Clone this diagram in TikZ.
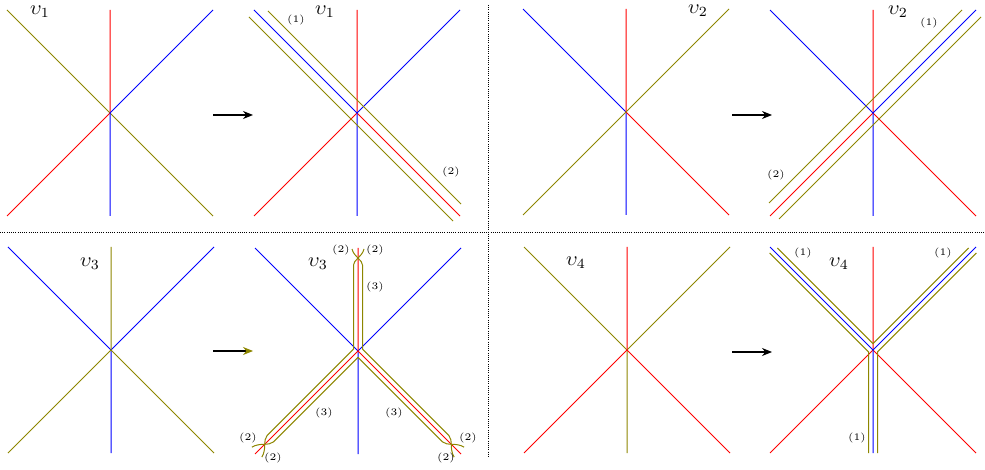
\documentclass[tikz,border=0pt]{standalone}
\usepackage{amsmath,amssymb}
\usepackage{tikz}
\usetikzlibrary{arrows.meta}
\tikzset{
  rl/.style={draw=red, line width=0.5pt},
  bl/.style={draw=blue, line width=0.5pt},
  ol/.style={draw=olive, line width=0.5pt},
  tube/.style={draw=olive, line width=0.5pt},
  vlab/.style={font=\normalsize, inner sep=1pt},
  idx/.style={font=\tiny, inner sep=1pt},
  mapto/.style={-{Stealth[length=5pt,width=4pt]}, line width=0.6pt},
  sep/.style={line width=0.5pt, dash pattern=on 0.5pt off 0.6pt},
}

\begin{document}
\begin{tikzpicture}[x=0.5pt, y=-0.5pt]
  \useasboundingbox (0,0) rectangle (985,470);
  % separators
  \coordinate (st) at (488,5);  \coordinate (sb) at (488,457);
  \coordinate (sl) at (0,233);  \coordinate (sr) at (985,233);
  \draw[sep] (st) -- (sb);
  \draw[sep] (sl) -- (sr);

  % v1 before
  \begin{scope}[shift={(110,113)}]
    \coordinate (c1) at (0,0);
    \draw[ol] (-103,-103) -- (103,103);
    \draw[rl] (0,-103) -- (c1) -- (-103,103);
    \draw[bl] (103,-103) -- (c1) -- (0,103);
    \node[vlab] (v1a) at (-70,-101) {$\upsilon_1$};
  \end{scope}
  \coordinate (a1s) at (213,115); \coordinate (a1e) at (253,115);
  \draw[mapto] (a1s) -- (a1e);
  % v1 after
  \begin{scope}[shift={(357,113)}]
    \coordinate (c2) at (0,0);
    \draw[rl] (0,-103) -- (c2) -- (103,103);
    \draw[rl] (-103,103) -- (c2);
    \draw[bl] (-103,-103) -- (c2) -- (0,103);
    \draw[bl] (c2) -- (103,-103);
    \draw[ol] (-89,-102) -- (104,91);
    \draw[ol] (-108,-96) -- (96,108);
    \node[vlab] (v1b) at (-32,-101) {$\upsilon_1$};
    \node[idx] (i21) at (-61,-93) {(1)};
    \node[idx] (i22) at (94,59) {(2)};
  \end{scope}

  % v2 before
  \begin{scope}[shift={(626,112)}]
    \coordinate (c3) at (0,0);
    \draw[bl] (-103,-103) -- (c3) -- (0,103);
    \draw[rl] (0,-103) -- (c3) -- (103,103);
    \draw[ol] (-103,103) -- (103,-103);
    \node[vlab] (v2a) at (72,-101) {$\upsilon_2$};
  \end{scope}
  \coordinate (a2s) at (732,115); \coordinate (a2e) at (772,115);
  \draw[mapto] (a2s) -- (a2e);
  % v2 after
  \begin{scope}[shift={(873,113)}]
    \coordinate (c4) at (0,0);
    \draw[rl] (0,-103) -- (c4) -- (103,103);
    \draw[rl] (-103,103) -- (c4);
    \draw[bl] (-103,-103) -- (c4) -- (0,103);
    \draw[bl] (c4) -- (103,-103);
    \draw[ol] (-104,90) -- (89,-103);
    \draw[ol] (-94,106) -- (108,-96);
    \node[vlab] (v2b) at (25,-101) {$\upsilon_2$};
    \node[idx] (i41) at (56,-90) {(1)};
    \node[idx] (i42) at (-97,62) {(2)};
  \end{scope}

  % v3 before
  \begin{scope}[shift={(111,350)}]
    \coordinate (c5) at (0,0);
    \draw[bl] (-103,-103) -- (c5) -- (0,103);
    \draw[bl] (c5) -- (103,-103);
    \draw[ol] (0,-103) -- (c5) -- (103,103);
    \draw[ol] (-103,103) -- (c5);
    \node[vlab] (v3a) at (-21,-86) {$\upsilon_3$};
  \end{scope}
  \coordinate (a3s) at (213,351); \coordinate (a3e) at (253,351);
  \draw[mapto, -{Stealth[length=5pt,width=4pt,color=olive]}] (a3s) -- (a3e);
  % v3 after
  \begin{scope}[shift={(358,351)}]
    \coordinate (c6) at (0,0);
    \draw[bl] (-103,-103) -- (c6) -- (0,103);
    \draw[bl] (c6) -- (103,-103);
    \draw[rl] (0,-103) -- (c6) -- (103,103);
    \draw[rl] (-103,103) -- (c6);
    % olive tubes, one per arm
    \begin{scope}
      \draw[tube] (-4.5,-1.86) -- (-4.5,-86) .. controls (-4.5,-91) and (4,-94) .. (6,-102);
      \draw[tube] (4.5,-1.86) -- (4.5,-86) .. controls (4.5,-91) and (-4,-94) .. (-6,-102);
    \end{scope}
    \begin{scope}[rotate=135]
      \draw[tube] (4.5,-1.86) -- (4.5,-124) .. controls (4.5,-130) and (-5,-134) .. (-7,-143);
      \draw[tube] (-4.5,-4.5) -- (-4.5,-124) .. controls (-4.5,-130) and (5,-134) .. (7,-143);
    \end{scope}
    \begin{scope}[rotate=-135]
      \draw[tube] (-4.5,-1.86) -- (-4.5,-124) .. controls (-4.5,-130) and (5,-134) .. (7,-143);
      \draw[tube] (4.5,-4.5) -- (4.5,-124) .. controls (4.5,-130) and (-5,-134) .. (-7,-143);
    \end{scope}
    \node[vlab] (v3b) at (-40,-87) {$\upsilon_3$};
    \node[idx] (i61) at (-17,-101) {(2)};
    \node[idx] (i62) at (17,-101) {(2)};
    \node[idx] (i63) at (17,-64) {(3)};
    \node[idx] (i64) at (-34,62) {(3)};
    \node[idx] (i65) at (36,62) {(3)};
    \node[idx] (i66) at (-110,87) {(2)};
    \node[idx] (i67) at (-85,107) {(2)};
    \node[idx] (i68) at (110,87) {(2)};
    \node[idx] (i69) at (88,107) {(2)};
  \end{scope}

  % v4 before
  \begin{scope}[shift={(627,350)}]
    \coordinate (c7) at (0,0);
    \draw[ol] (-103,-103) -- (c7) -- (0,103);
    \draw[ol] (c7) -- (103,-103);
    \draw[rl] (0,-103) -- (c7) -- (103,103);
    \draw[rl] (-103,103) -- (c7);
    \node[vlab] (v4a) at (-51,-87) {$\upsilon_4$};
  \end{scope}
  \coordinate (a4s) at (732,352); \coordinate (a4e) at (772,352);
  \draw[mapto] (a4s) -- (a4e);
  % v4 after
  \begin{scope}[shift={(873,350)}]
    \coordinate (c8) at (0,0);
    \draw[rl] (0,-103) -- (c8) -- (103,103);
    \draw[rl] (-103,103) -- (c8);
    \draw[bl] (-103,-103) -- (c8) -- (0,103);
    \draw[bl] (c8) -- (103,-103);
    \draw[tube] (-95.6,-102) -- (0,-6.36) -- (95.6,-102);
    \draw[tube] (-103.4,-97) -- (-4.5,1.86) -- (-4.5,103);
    \draw[tube] (103.4,-97) -- (4.5,1.86) -- (4.5,103);
    \node[vlab] (v4b) at (-34,-86) {$\upsilon_4$};
    \node[idx] (i81) at (-70,-97) {(1)};
    \node[idx] (i82) at (70,-97) {(1)};
    \node[idx] (i83) at (-16,88) {(1)};
  \end{scope}
\end{tikzpicture}
\end{document}
